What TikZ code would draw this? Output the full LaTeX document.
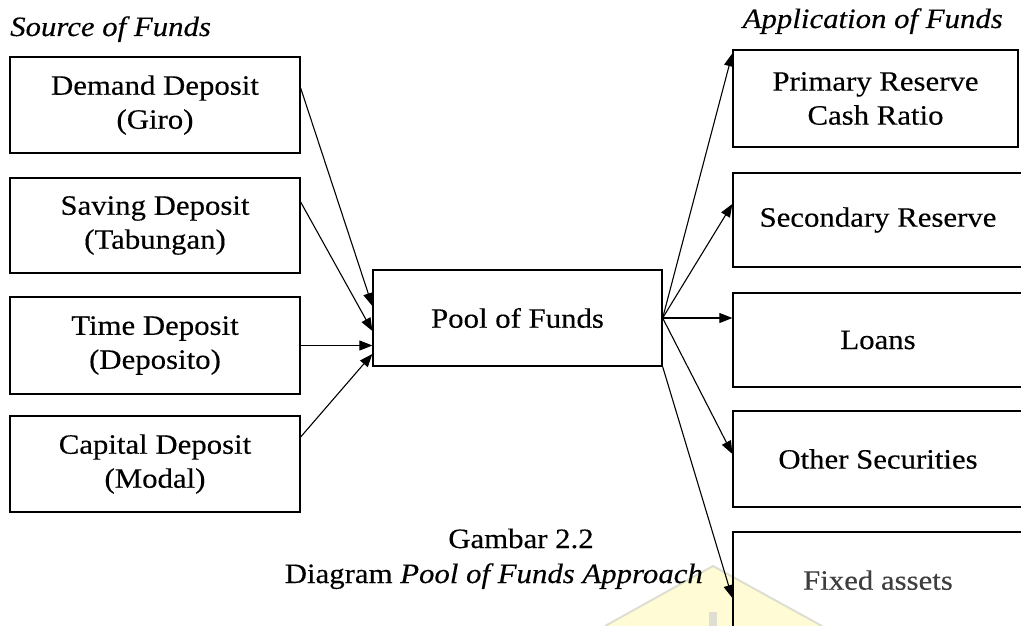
\documentclass[tikz,border=0pt]{standalone}
\usepackage{fontspec}
\setmainfont{Liberation Serif}[FakeStretch=1.1,FakeBold=0.3]
\usetikzlibrary{arrows.meta}
\definecolor{wmfill}{RGB}{255,251,212}
\definecolor{wmedge}{RGB}{222,222,210}
\definecolor{fadedtext}{RGB}{62,62,62}
\begin{document}
\begin{tikzpicture}[x=1pt,y=-1pt,
  txt/.style={font=\fontsize{28}{34}\selectfont},
  box/.style={draw, line width=1.3pt, inner sep=0pt, align=center, txt},
  conn/.style={line width=1.1pt, -{Triangle[length=13pt,width=10pt]}},
  every node/.style={inner sep=0pt}]
\useasboundingbox (0,0) rectangle (1021,626);
% watermark
\fill[wmfill] (605,626) -- (713,566) -- (822,626) -- cycle;
\draw[wmedge, line width=2pt] (605,626) -- (713,566) -- (822,626);
\fill[wmedge] (709,612) rectangle (717,626);
% titles
\node[txt, anchor=base west] (tsrc) at (10,36) {\itshape Source of Funds};
\node[txt, anchor=base east] (tapp) at (1003,28) {\itshape Application of Funds};
% left boxes
\node[box, minimum width=290pt, minimum height=96pt] (L1) at (155,105) {Demand Deposit\\(Giro)};
\node[box, minimum width=290pt, minimum height=95pt] (L2) at (155,225.5) {Saving Deposit\\(Tabungan)};
\node[box, minimum width=290pt, minimum height=97pt] (L3) at (155,345.5) {Time Deposit\\(Deposito)};
\node[box, minimum width=290pt, minimum height=96pt] (L4) at (155,464) {Capital Deposit\\(Modal)};
% pool
\node[box, minimum width=289pt, minimum height=96pt] (P) at (517.5,318) {Pool of Funds};
% right boxes
\node[box, minimum width=285pt, minimum height=97pt] (R1) at (875.5,98.5) {Primary Reserve\\Cash Ratio};
\node[box, minimum width=290pt, minimum height=94pt] (R2) at (878,220) {Secondary Reserve};
\node[box, minimum width=290pt, minimum height=94pt] (R3) at (878,340) {Loans};
\node[box, minimum width=290pt, minimum height=96pt] (R4) at (878,459) {Other Securities};
\node[box, minimum width=290pt, minimum height=98pt, text=fadedtext] (R5) at (878,581) {\raisebox{2pt}{Fixed assets}};
% caption
\node[txt, anchor=base] (cap1) at (521,548) {Gambar 2.2};
\node[txt, anchor=base east] (cap2) at (703,583) {Diagram \textit{Pool of Funds Approach}};
% incoming connectors
\draw[conn] ([yshift=17pt]L1.east) -- ([yshift=12pt]P.west);
\draw[conn] ([yshift=23.5pt]L2.east) -- ([yshift=-13pt]P.west);
\draw[conn] (L3.east) -- (L3.east -| P.west);
\draw[conn] ([yshift=27pt]L4.east) -- ([yshift=-36pt]P.west);
% outgoing connectors
\draw[conn] (P.east) -- ([yshift=-4pt]R1.north west);
\draw[conn] (P.east) -- ([yshift=16pt]R2.west);
\draw[conn] (P.east) -- (P.east -| R3.west);
\draw[conn] (P.east) -- ([yshift=5pt]R4.west);
\draw[conn] (P.south east) -- ([yshift=-17pt]R5.west);
\end{tikzpicture}
\end{document}
